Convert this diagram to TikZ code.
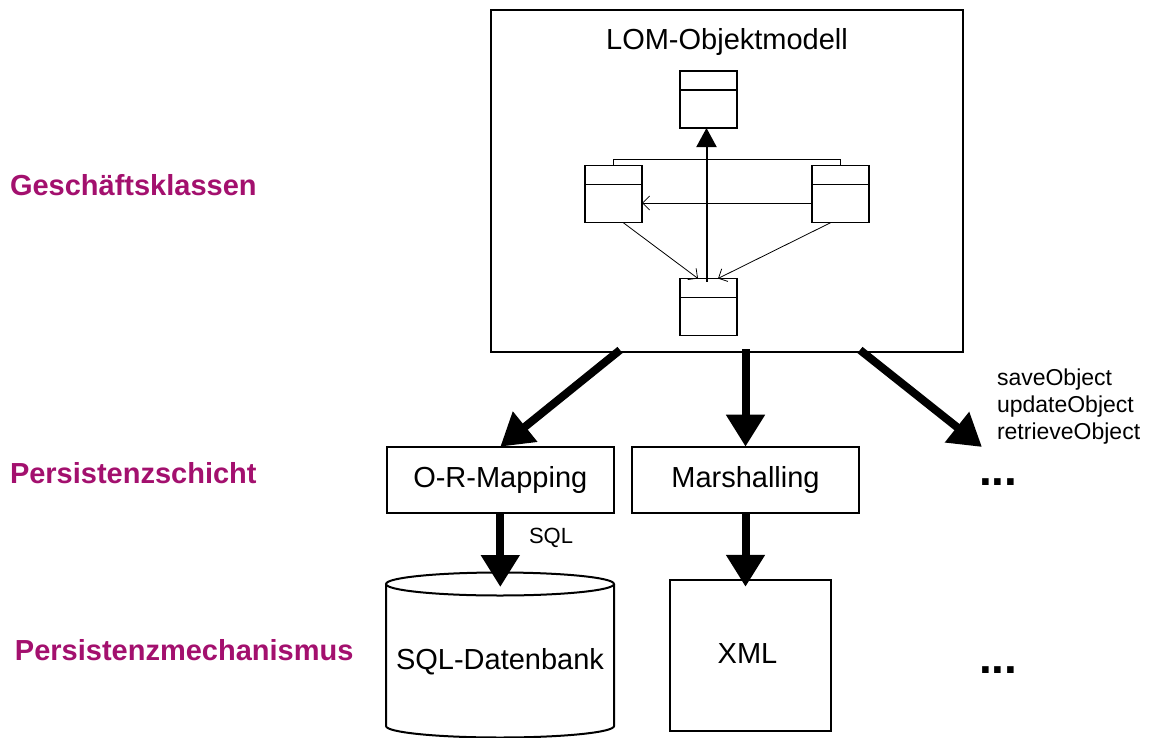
\documentclass[tikz,border=0pt]{standalone}
\usepackage{fontspec}
\setmainfont{Liberation Sans}
\usetikzlibrary{arrows.meta,calc}
\definecolor{labelc}{RGB}{163,16,110}
\begin{document}
\begin{tikzpicture}[x=1pt,y=-1pt,
  every node/.style={inner sep=0pt, outer sep=0pt},
  box/.style={draw, line width=2pt},
  cls/.style={draw, line width=1.5pt, minimum width=57pt, minimum height=57pt},
  big/.style={font=\fontsize{29}{33}\selectfont},
  lbl/.style={font=\fontsize{29}{33}\selectfont\bfseries, text=labelc, anchor=base west},
  fat/.style={line width=8pt, -{Triangle[length=32pt,width=37pt]}},
  thinarr/.style={line width=0.8pt, -{Straight Barb[length=7pt,width=14pt]}},
  gen/.style={line width=2pt, -{Triangle[length=19pt,width=20pt]}},
  dots/.style={font=\fontsize{46}{46}\selectfont\bfseries, anchor=base west}
]
\useasboundingbox (0,0) rectangle (1152,737);

% left labels
\node[lbl] (l1) at (10,195) {Geschäftsklassen};
\node[lbl] (l2) at (10,483) {Persistenzschicht};
\node[lbl] (l3) at (15,660) {Persistenzmechanismus};

% object model box
\node[box, minimum width=472pt, minimum height=342pt] (main) at (727,181) {};
\node[big] (title) at (727,42) {LOM-Objektmodell};

% classes
\node[cls] (ctop) at (708.5,99.5) {};
\node[cls] (cleft) at (613.5,194) {};
\node[cls] (cright) at (840.5,194) {};
\node[cls] (cbot) at (708.5,307) {};
\foreach \c in {ctop,cleft,cright,cbot}
  \draw[line width=1.5pt] ($(\c.north west)+(0,19)$) -- ($(\c.north east)+(0,19)$);

\draw[line width=1.5pt] (cleft.north) -- ++(0,-6) -| (cright.north);
\draw[gen] ($(cbot.north)+(-2,3)$) -- ($(ctop.south)+(-2,0)$);
\draw[thinarr] ($(cright.west)+(0,9)$) -- ($(cleft.east)+(0,9)$);
\draw[thinarr] ($(cleft.south)+(9.5,0)$) -- ($(cbot.north)+(-10.5,0)$);
\draw[thinarr] ($(cright.south)+(-9.5,0)$) -- ($(cbot.north)+(9.5,0)$);

% persistence layer
\node[box, big, minimum width=227pt, minimum height=66pt] (orm) at (500.3,479.7) {O-R-Mapping};
\node[box, big, minimum width=227pt, minimum height=66pt] (marsh) at (745.5,479.7) {Marshalling};

\coordinate (s1) at (620,350);
\coordinate (s2) at (745.5,349);
\coordinate (s3) at (860,350);
\coordinate (e3) at (982,447);
\draw[fat] (s1) -- (orm.north);
\draw[fat] (s2) -- (marsh.north);
\draw[fat] (s3) -- (e3);

\node[anchor=base west, font=\fontsize{23}{26}\selectfont] (op1) at (997,385) {saveObject};
\node[anchor=base west, font=\fontsize{23}{26}\selectfont] (op2) at (997,412) {updateObject};
\node[anchor=base west, font=\fontsize{23}{26}\selectfont] (op3) at (997,439) {retrieveObject};
\node[dots] (d1) at (979,485) {...};

% mechanisms
\draw[line width=2pt] (386,584) -- (386,726)
  arc[start angle=180, end angle=0, x radius=114, y radius=11.5] -- (614,584);
\draw[line width=2pt] (500,584) ellipse [x radius=114, y radius=11.5];
\coordinate (dbtop) at (500.3,587);
\node[big] (db) at (500,662) {SQL-Datenbank};

\node[box, big, minimum width=161pt, minimum height=151pt] (xml) at (750.5,655.3) {};
\node[big] (xmltext) at (747.5,654) {XML};

\draw[fat] (orm.south) -- (dbtop);
\node[anchor=base west, font=\fontsize{22}{26}\selectfont] (sql) at (529,543) {SQL};
\draw[fat, shorten >=-7pt] (marsh.south) -- (marsh.south |- xml.north);

\node[dots] (d2) at (979,673) {...};
\end{tikzpicture}
\end{document}
